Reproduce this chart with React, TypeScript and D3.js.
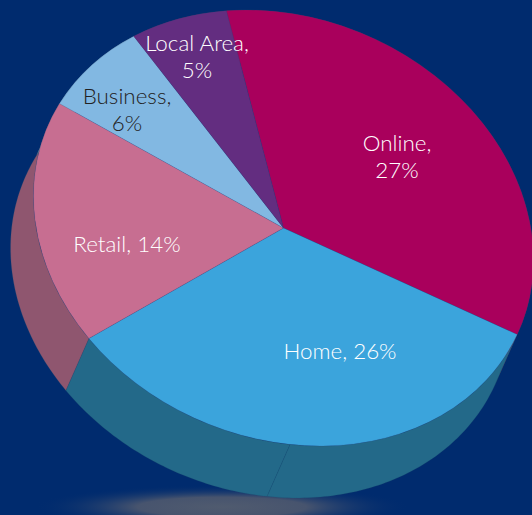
import React from 'react';
import * as d3 from 'd3';

const categories = ['Online', 'Home', 'Retail', 'Business', 'Local Area'];
const shares = [26.8, 26, 14.1, 5.8, 5.1]; // labels show these rounded
const topColors = ['#a9005c', '#3ba4dc', '#c76e91', '#82b8e2', '#632d80'];
const wallColors = ['#7d0a50', '#236989', '#8f566f', '#5f87a8', '#4a2463'];
const textColors = ['#ffffff', '#ffffff', '#ffffff', '#222222', '#ffffff'];
// labels that break after the comma
const wrapped = ['Online', 'Business', 'Local Area'];
// label centres, relative to the pie centre
const labelOffsets = [[113.5, -71], [56.5, 123], [-156.5, 16], [-156.5, -118], [-86.5, -171]];

const width = 532;
const height = 515;
const cx = 283.5;
const cy = 228;
const radius = 100;
// tilted ellipse: unit circle -> screen
const m = { a: 2.5, b: 0.32, d: 2.156 };
const depth = { x: -23, y: 52 };
const seam = (178.5 * Math.PI) / 180; // side wall is split near the bottom of the pie

const project = (angle: number, dx = 0, dy = 0): [number, number] => {
  const ux = radius * Math.sin(angle);
  const uy = -radius * Math.cos(angle);
  return [cx + m.a * ux + dx, cy + m.b * ux + m.d * uy + dy];
};

const pie = d3.pie<number>()
  .sort(null)
  .startAngle((-13.2 * Math.PI) / 180)
  .endAngle((346.8 * Math.PI) / 180);
const arcs = pie(shares);
const arc = d3.arc<d3.PieArcDatum<number>>().innerRadius(0).outerRadius(radius);
const line = d3.line();

// outline of one piece of the side wall between two angles
function wallPath(a0: number, a1: number) {
  const n = Math.max(2, Math.ceil((a1 - a0) * 60));
  const angles = d3.range(n + 1).map((i) => a0 + ((a1 - a0) * i) / n);
  const top = angles.map((t) => project(t));
  const bottom = angles.slice().reverse().map((t) => project(t, depth.x, depth.y));
  return line([...top, ...bottom]) + 'Z';
}

function wallPieces(d: d3.PieArcDatum<number>) {
  if (d.startAngle < seam && d.endAngle > seam) {
    return [[d.startAngle, seam], [seam, d.endAngle]];
  }
  return [[d.startAngle, d.endAngle]];
}

export default function App() {
  return (
    <svg
      width={width}
      height={height}
      style={{ position: 'absolute', left: 0, top: 0, display: 'block' }}
      fontFamily="Lato"
    >
      <defs>
        <radialGradient id="glow">
          <stop offset="0%" stopColor="#505b6f" />
          <stop offset="45%" stopColor="#47546e" />
          <stop offset="100%" stopColor="#002b6e" stopOpacity={0} />
        </radialGradient>
      </defs>
      <rect width={width} height={height} fill="#002b6e" />
      <ellipse cx={222} cy={507} rx={188} ry={22} fill="url(#glow)" />

      {arcs.map((d, i) =>
        wallPieces(d).map(([a0, a1], k) => (
          <path
            key={`${i}-${k}`}
            d={wallPath(a0, a1)}
            fill={wallColors[i]}
            stroke="#1d4f70"
            strokeOpacity={0.4}
            strokeWidth={0.5}
          />
        ))
      )}

      <g transform={`matrix(${m.a},${m.b},0,${m.d},${cx},${cy})`}>
        {arcs.map((d, i) => (
          <path
            key={categories[i]}
            d={arc(d) as string}
            fill={topColors[i]}
            stroke="#3a4a80"
            strokeOpacity={0.3}
            strokeWidth={0.5}
            vectorEffect="non-scaling-stroke"
          />
        ))}
      </g>

      {categories.map((name, i) => {
        const [ox, oy] = labelOffsets[i];
        const pct = Math.round(shares[i]);
        const lines = wrapped.includes(name)
          ? [`${name},`, `${pct}%`]
          : [`${name}, ${pct}%`];
        return (
          <text
            key={name}
            x={cx + ox}
            y={cy + oy}
            textAnchor="middle"
            fontSize={22.4}
            fontWeight={300}
            fill={textColors[i]}
          >
            {lines.map((s, k) => (
              <tspan
                key={s}
                x={cx + ox}
                dy={k === 0 ? `${0.35 - (lines.length - 1) * 0.6}em` : '1.2em'}
              >
                {s}
              </tspan>
            ))}
          </text>
        );
      })}
    </svg>
  );
}
